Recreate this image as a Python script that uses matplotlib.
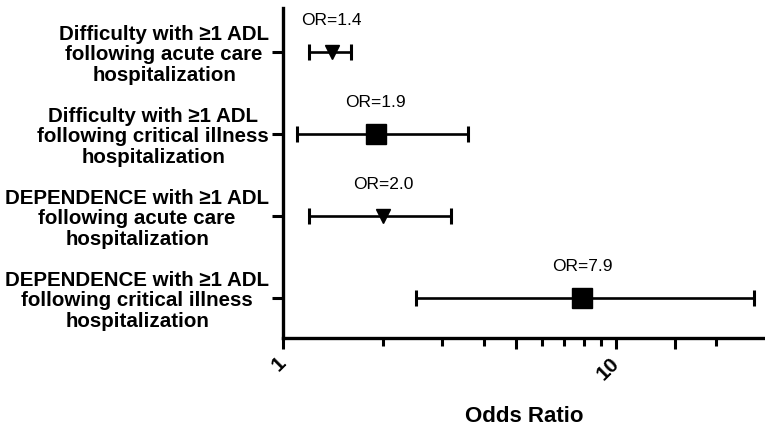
import matplotlib
matplotlib.use("Agg")
import matplotlib.pyplot as plt
from matplotlib.ticker import FixedLocator, NullFormatter

plt.rcParams['font.family'] = ['Liberation Sans', 'DejaVu Sans']

# data
labels = [
    "Difficulty with \u22651 ADL\nfollowing acute care\nhospitalization",
    "Difficulty with \u22651 ADL\nfollowing critical illness\nhospitalization",
    "DEPENDENCE with \u22651 ADL\nfollowing acute care\nhospitalization",
    "DEPENDENCE with \u22651 ADL\nfollowing critical illness\nhospitalization",
]
odds = [1.4, 1.9, 2.0, 7.9]
ci_low = [1.2, 1.1, 1.2, 2.5]
ci_high = [1.6, 3.6, 3.2, 26.0]
markers = ['v', 's', 'v', 's']
msizes = [9.5, 14, 9.5, 14]
ypos = [4, 3, 2, 1]

fig = plt.figure(figsize=(7.65, 4.3), dpi=100)
ax = fig.add_axes([0.370, 0.214, 0.630, 0.767])

for y, o, lo, hi, m, ms in zip(ypos, odds, ci_low, ci_high, markers, msizes):
    ax.errorbar([o], [y], xerr=[[o - lo], [hi - o]], fmt=m, color='black',
                markersize=ms, elinewidth=1.9, capsize=5.5, capthick=2.2)
    ax.annotate(f"OR={o:.1f}", (o, y), xytext=(0, 23), textcoords='offset points',
                ha='center', va='center', fontsize=12.5)

ax.set_xscale('log')
ax.set_xlim(1, 28)
ax.set_ylim(0.512, 4.537)

ax.xaxis.set_major_locator(FixedLocator([1, 5, 10, 15]))
ax.xaxis.set_minor_locator(FixedLocator([2, 3, 4, 6, 7, 8, 9, 20]))
ax.xaxis.set_minor_formatter(NullFormatter())
ax.set_xticklabels(['1', '', '10', ''], fontsize=15, fontweight='bold',
                   rotation=45, ha='right', va='center', rotation_mode='anchor')
ax.tick_params(axis='x', which='major', length=8, width=2.2, pad=8)
ax.tick_params(axis='x', which='minor', length=5.5, width=2.2)

ax.set_yticks(ypos)
ax.set_yticklabels(labels, fontsize=14.8, fontweight='bold',
                   multialignment='center', linespacing=1.1)
ax.tick_params(axis='y', length=8, width=2.2, pad=2)

for s in ['top', 'right']:
    ax.spines[s].set_visible(False)
for s in ['left', 'bottom']:
    ax.spines[s].set_linewidth(2.4)

ax.set_xlabel('Odds Ratio', fontsize=16, fontweight='bold', labelpad=16)

fig.savefig('out.png', dpi=100)
